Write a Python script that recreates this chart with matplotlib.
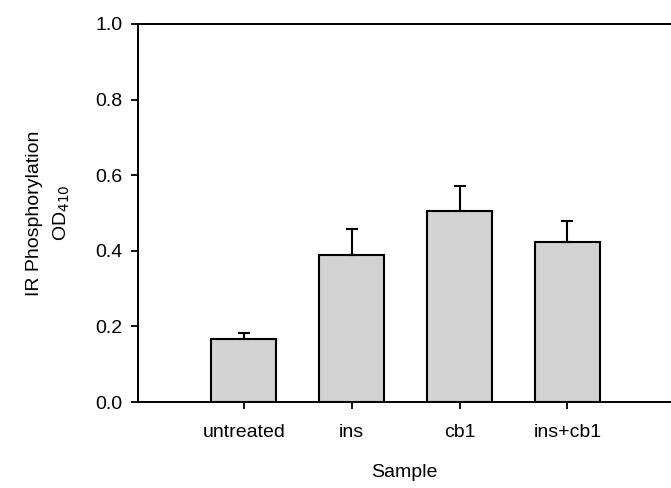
import matplotlib
matplotlib.use("Agg")
import matplotlib.pyplot as plt

plt.rcParams['font.family'] = ['Liberation Sans', 'DejaVu Sans']

categories = ["untreated", "ins", "cb1", "ins+cb1"]
values = [0.167, 0.389, 0.505, 0.423]
errors = [0.016, 0.069, 0.066, 0.056]
yticks = [0.0, 0.2, 0.4, 0.6, 0.8, 1.0]

fig = plt.figure(figsize=(6.71, 4.88), dpi=100)
ax = fig.add_axes([0.2057, 0.176, 0.7943, 0.775])

x = list(range(len(categories)))
lower = [0] * len(errors)
ax.bar(x, values, width=0.6, color="#d2d2d2", edgecolor="black", linewidth=1.5,
       yerr=[lower, errors], capsize=4.5,
       error_kw=dict(ecolor="black", elinewidth=1.5, capthick=1.5))

ax.set_xlim(-0.98, 3.96)
ax.set_ylim(0, 1.0)
ax.set_yticks(yticks)
ax.set_yticklabels([f"{t:.1f}" for t in yticks])
ax.set_xticks(x)
ax.set_xticklabels(categories)

for s in ["left", "bottom", "top"]:
    ax.spines[s].set_linewidth(1.4)
ax.spines["right"].set_visible(False)

fs = 14
ax.tick_params(axis="both", direction="out", length=5, width=1.3, labelsize=fs)
ax.tick_params(axis="y", pad=6)
ax.tick_params(axis="x", pad=11)

ax.set_ylabel("IR Phosphorylation\nOD$_{410}$", fontsize=fs, labelpad=17, linespacing=1.6)
ax.set_xlabel("Sample", fontsize=fs, labelpad=16)

fig.savefig("out.png", dpi=100)
